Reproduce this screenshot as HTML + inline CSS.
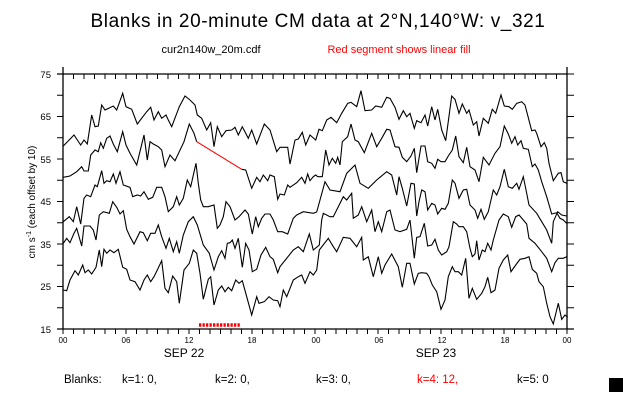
<!DOCTYPE html>
<html><head><meta charset="utf-8"><style>
html,body{margin:0;padding:0;background:#fff;}
svg{display:block;font-family:"Liberation Sans",sans-serif;}
</style></head><body>
<svg width="623" height="404" viewBox="0 0 623 404" xmlns="http://www.w3.org/2000/svg">
<rect width="623" height="404" fill="#fff"/>
<text x="318" y="27" font-size="19" text-anchor="middle" letter-spacing="0.6">Blanks in 20-minute CM data at 2°N,140°W: v_321</text>
<text x="211" y="53" font-size="11" text-anchor="middle">cur2n140w_20m.cdf</text>
<text x="399" y="53" font-size="11" text-anchor="middle" fill="#f00">Red segment shows linear fill</text>
<g stroke="#000" stroke-width="1.3" fill="none">
<line x1="63" y1="67" x2="63" y2="329"/>
<line x1="567" y1="67" x2="567" y2="329"/>
<line x1="57" y1="74" x2="567" y2="74"/>
<line x1="57" y1="329" x2="574" y2="329"/>
</g>
<path stroke="#000" stroke-width="1" fill="none" d="
M63 74v5M73.5 74v5M84 74v5M94.5 74v5M105 74v5M115.5 74v5M126 74v5M136.5 74v5M147 74v5M157.5 74v5M168 74v5M178.5 74v5M189 74v5M199.5 74v5M210 74v5M220.5 74v5M231 74v5M241.5 74v5M252 74v5M262.5 74v5M273 74v5M283.5 74v5M294 74v5M304.5 74v5M315 74v5M325.5 74v5M336 74v5M346.5 74v5M357 74v5M367.5 74v5M378 74v5M388.5 74v5M399 74v5M409.5 74v5M420 74v5M430.5 74v5M441 74v5M451.5 74v5M462 74v5M472.5 74v5M483 74v5M493.5 74v5M504 74v5M514.5 74v5M525 74v5M535.5 74v5M546 74v5M556.5 74v5M567 74v5
M63 329v5M73.5 329v5M84 329v5M94.5 329v5M105 329v5M115.5 329v5M126 329v5M136.5 329v5M147 329v5M157.5 329v5M168 329v5M178.5 329v5M189 329v5M199.5 329v5M210 329v5M220.5 329v5M231 329v5M241.5 329v5M252 329v5M262.5 329v5M273 329v5M283.5 329v5M294 329v5M304.5 329v5M315 329v5M325.5 329v5M336 329v5M346.5 329v5M357 329v5M367.5 329v5M378 329v5M388.5 329v5M399 329v5M409.5 329v5M420 329v5M430.5 329v5M441 329v5M451.5 329v5M462 329v5M472.5 329v5M483 329v5M493.5 329v5M504 329v5M514.5 329v5M525 329v5M535.5 329v5M546 329v5M556.5 329v5M567 329v5
M57 95.25h6M57 116.5h6M57 137.75h6M57 159h6M57 180.25h6M57 201.5h6M57 222.75h6M57 244h6M57 265.25h6M57 286.5h6M57 307.75h6
M567 74h7M567 95.25h7M567 116.5h7M567 137.75h7M567 159h7M567 180.25h7M567 201.5h7M567 222.75h7M567 244h7M567 265.25h7M567 286.5h7M567 307.75h7"/>
<g font-size="9.5" text-anchor="end">
<text x="51" y="78">75</text><text x="51" y="120">65</text><text x="51" y="163">55</text>
<text x="51" y="205">45</text><text x="51" y="248">35</text><text x="51" y="290">25</text><text x="51" y="333">15</text>
</g>
<g font-size="8" text-anchor="middle">
<text x="63" y="343">00</text><text x="126" y="343">06</text><text x="189" y="343">12</text><text x="252" y="343">18</text>
<text x="316" y="343">00</text><text x="379" y="343">06</text><text x="442" y="343">12</text><text x="505" y="343">18</text><text x="567" y="343">00</text>
</g>
<text x="184" y="357" font-size="12" text-anchor="middle">SEP 22</text>
<text x="436" y="357" font-size="12" text-anchor="middle">SEP 23</text>
<text transform="translate(35,202) rotate(-90)" font-size="10" text-anchor="middle">cm s<tspan dy="-4" font-size="7">-1</tspan><tspan dy="4"> (each offset by 10)</tspan></text>
<g font-size="11.5">
<text x="64" y="383">Blanks:</text>
<text x="122" y="383">k=1: 0,</text>
<text x="215" y="383">k=2: 0,</text>
<text x="316" y="383">k=3: 0,</text>
<text x="417" y="383" fill="#f00">k=4: 12,</text>
<text x="517" y="383">k=5: 0</text>
</g>
<rect x="609" y="378" width="14" height="14" fill="#000"/>
<g stroke="#000" stroke-width="1.1" fill="none">
<polyline points="63.3,146 74,135 80.7,145 84,140 87.3,144 91.7,115 95,126.7 98.3,126 101.7,105 105,110 113.3,106 116.7,110 122.7,93.3 126,106.7 131.7,109.3 137.3,124 146.7,111.7 150.7,107.3 154,120 158.3,111.7 161.7,118.3 166,115 168.3,120 171.7,126.7 179.3,106.7 185,96 190,100 195,105 197.3,115 201.7,118.3 206.7,130 210.7,122.7 214,146.7 217.3,126.7 221.7,136.7 226,130.7 231.7,130 235,127.3 238.3,135 242.3,126.7 248.3,138.3 251.7,130 256.7,144 264.3,124 270,130 276.7,151.7 280,147.3 287.7,147.3 290,164 295,140 298.3,139 302.3,132.3 305.7,145 310,135 315.7,140 319,129.3 322.3,130.7 326.7,120 331,117.3 336.7,122.7 341.7,113.3 347.7,103.3 351,102.3 356.7,106.7 361,90.7 365,110.7 371.7,110 375.7,106 381.7,107.3 386.7,97.3 390,98.3 395,107.3 399,119.3 403.3,110.7 406.7,116.7 410,113.3 414.3,128.3 416.7,120.7 421,122.7 425,115 427.7,126 431.7,106.7 435,120 437.7,109.3 441.7,130 445.7,140.7 451.7,96 455,99.3 459,113.3 462.3,104 466.7,113.3 469,110 473.3,125 476.7,121.7 479,136 483.3,118.3 488.3,123.3 492.3,109.3 495.7,113.3 501,95 504.3,106 509,106.7 512.3,109.3 516.7,103.3 521.7,101.7 525,105 531.7,130.7 535,130 536.7,133.3 541,146.7 544.3,142.7 546.7,148.3 549,163.3 553.3,180.7 558.3,173.3 561,172.7 563.3,181.7 566.7,183.3"/>
<polyline points="63.3,177.3 70,176 76.7,171.7 81.7,166.7 84,171 88.3,171 90.7,155 95,150 98.3,151.7 100.7,142.7 103.3,148.3 106.7,138.3 110,136 113.3,144 117.3,151.7 122.7,131.7 126,145 130,153.3 136.7,165 144,135 147.3,160 150,141.7 153.3,144 158.3,146.7 161.7,150 165,166.7 170,155 175,160.7 184,141.7 189.3,124 194,133.3 196.7,141.7"/>
<polyline points="241.7,169.3 245.7,170 251.7,188.3 256.7,177.3 260,181.7 263.3,175 267.7,180.7 270,175 274.3,176.7 277.7,199.3 280,194 284.3,195 287.7,185 290,187.3 296.7,182.7 301.7,177.3 305,183.3 307.7,174 310,180.7 313.3,176.7 315.7,175 317.7,176.7 322.3,176.7 325.7,150 329,165 332.3,158.3 335.7,163.3 337.7,157.3 340,165 342.3,141.7 347.7,136.7 351,124 355,140 358.3,141.7 364.3,152.7 371.7,133.3 376.7,146.7 381.7,138.3 386.7,129.3 390,130 395,146.7 399,147.3 402.3,157.3 406.7,161.7 411,156 414.3,148.3 416.7,172.7 419,158.3 421,146 425,146 427.7,161.7 431.7,163.3 435,168.3 437.7,159.3 441,161.7 445,161.7 448.3,156 452.3,150 455.7,136 459,156.7 463.3,162.7 466.7,147.3 470,166.7 475,170 479,181.7 483.3,157.3 489,165 495,153.3 500,146.7 504.3,126 508.3,134 511.7,143.3 515,136.7 517.7,145 521,140.7 523.3,148.3 528.3,149.3 532.3,166.7 535,164 538.3,170 541.7,181.7 546.7,196.7 551.7,214 556.7,212.7 560,218.3 563.3,220 566.7,223.3"/>
<polyline points="63.3,221.7 69.3,216.7 73.3,221.7 76.7,206.7 80.7,224 84,198.3 86.7,195 90.7,196.7 95,185 97.3,186.7 101.7,170.7 104,183.3 106.7,180.7 110,181.7 113.3,174 116,183.3 120,171.7 123.3,185 130,187.3 132.7,196.7 137.3,195 140.7,196 144,191.7 148.3,199.3 152.7,197.3 156.7,187.3 161.7,187.3 165,196.7 168.3,211.7 173.3,206.7 176.7,196.7 179.3,205 183.3,198.3 187.3,180 190.7,186.7 196,163.3 198.3,183.3 200.7,200 203.3,206.7 208.3,206.7 214,205 217.3,228.3 220,225 223.3,216.7 226,201.7 230,206.7 235,220 239,216.7 245,210 248.3,214 252.3,234 255.7,216.7 258.3,226.7 261.7,218.3 265,214 270,214 273.3,220 277.7,231.7 282.3,231.7 287.7,234 293.3,218.3 296.7,215 303.3,211.7 313.3,213.3 316.7,212 320,200 325,181.7 330,190 340,191.7 346.7,173.3 355,165 360,183.3 368.3,188.3 376.7,180 386.7,171.7 391.7,175 396.7,195 399,176.7 402.3,188.3 406.7,206 411,183.3 414.3,184 416.7,216 419,201.7 421.7,190 425,191.7 427.7,210 431.7,203.3 435,205 437.7,214 441.7,208.3 445,209.3 448.3,203.3 452.3,180 455,183.3 459,198.3 463.3,190 466.7,189.3 470,205 475,210 477.7,218.3 481,209.3 484.3,219.3 488.3,211.7 493.3,190 496.7,195 500,186.7 504.3,169.3 508.3,186.7 512.3,188.3 516.7,183.3 519,189.3 523.3,176.7 526.7,193.3 529,205 536.7,213.3 541.7,221.7 546.7,230 551.7,243.3 553.3,221.7 557.7,211.7 561.7,215 566.7,216"/>
<polyline points="63.3,243.3 66.7,238.3 70,242.7 74,233.3 76.7,228.3 80,240 81.7,246 84,226 90,226 93.3,230 96,240 99.3,215 103.3,211.7 109.3,213.3 112.7,201.7 116.7,207.3 120,214 123.3,210.7 126.7,229.3 130,236.7 134,244 140,231.7 143.3,232.7 147.3,240.7 150.7,233.3 155,233.3 158.3,225 161.7,236.7 166,248.3 169.3,238.3 173.3,251.7 176.7,241.7 179.3,253.3 183.3,235 188.3,221.7 193.3,216.7 197.3,225 203.3,245 209.3,253.3 214,270 218.3,256.7 221.7,250.7 225,258.3 227.3,243.3 230,242.7 232.3,240 235,248.3 238.3,238.3 242.3,267.3 245.7,243.3 249,250 252.3,271.7 256.7,269.3 261,255 265.7,247.3 270,256.7 273.3,259.3 277.7,272.7 280,266.7 293.3,250 298.3,246.7 303.3,251.7 309.3,234 313.3,250 319.3,245 321.7,220 323.3,213.3 330,216.7 333.3,216.7 343.3,196.7 346.7,200 351.7,193.3 353.3,218.3 358.3,215 361.7,206.7 366.7,221.7 371.7,210 375,231.7 378.3,221.7 381.7,231.7 386.7,211.7 390,210 395,230 400,231.7 406.7,229.3 410,220 414.3,258.3 416.7,237.3 420,236.7 424.3,223.3 427.7,246 431.7,245 435,239.3 438.3,250 441.7,255 446.7,251.7 449,246.7 453.3,221.7 456.7,224 459,226.7 463.3,226.7 466.7,231.7 470,248.3 472.3,256.7 475,254 476.7,240.7 479,260 482.3,250 485,251.7 487.7,243.3 491,250 493.3,240 499,220 503.3,214 508.3,216.7 511.7,227.3 515.7,216.7 519,215 523.3,220 526.7,224 529,238.3 535,243.3 541.7,251.7 546.7,258.3 551.7,271.7 555,262.7 558.3,258.3 563.3,258.3 566.7,256.7"/>
<polyline points="63.3,290 66.7,290.7 70,280 75,270.7 78.3,275 82.7,265 85,272.7 88.3,270 91.7,274 96,267.3 99.3,250 101.7,266.7 104,249.3 106.7,253.3 110,250 114,252.7 118.3,249.3 122.7,267.3 126.7,269.3 130,280 135,281.7 140,290 144,280 147.3,275 150.7,281.7 154,276.7 157.3,270 161.7,260.7 165,288.3 168.3,292.7 172.7,276 176.7,281.7 179.3,303.3 184,270 189.3,263.3 193.3,250 196.7,253.3 200,273.3 203.3,299.3 208.3,279.3 210.7,276.7 214,305 218.3,290 221.7,286 225,291.7 228.3,287.3 231.7,290.7 235.7,280 239,283.3 242.3,280.7 246.7,296.7 251.7,315 256.7,296.7 259,303.3 264.3,301.7 269,296.7 273.3,300 277.7,300.7 280,306.7 283.3,290 286.7,296.7 293.3,280 298.3,276.7 301.7,275 305,283.3 310,271.7 313.3,275 316.7,270 319.3,250 328.3,238.3 333.3,246.7 336.7,251.7 343.3,237.3 350,238.3 356.7,246.7 361.7,237.3 363.3,260 368.3,256.7 373.3,276.7 378.3,256.7 381.7,273.3 385,265 391.7,254 398.3,266.7 402.3,287.3 406.7,263.3 410,263.3 414.3,284 418.3,273.3 421.7,272.7 426.7,273.3 429,276.7 432.3,285 436.7,291.7 441,309.3 445,300 448.3,276.7 452.3,266.7 455,271.7 458.3,271.7 461.7,275 465.7,258.3 469,298.3 472.3,288.3 476.7,299.3 481.7,293.3 485,286.7 487.7,277.3 491,292.7 495,290 499,268.3 503.3,260 507.7,255 511,271.7 515,266 520,259.3 525,258.3 529,256.7 532.3,269.3 536.7,273.3 539,281.7 543.3,286.7 546.7,303.3 550,316.7 553.3,324 558.3,303.3 561.7,319.3 565,315 567.7,317.3"/>
</g>
<polyline points="196.7,141.7 241.7,169.3" stroke="#f00" stroke-width="1.1" fill="none"/>
<line x1="199" y1="325" x2="241" y2="325" stroke="#f00" stroke-width="3.5" stroke-dasharray="2.3,1.2"/>
</svg>
</body></html>
